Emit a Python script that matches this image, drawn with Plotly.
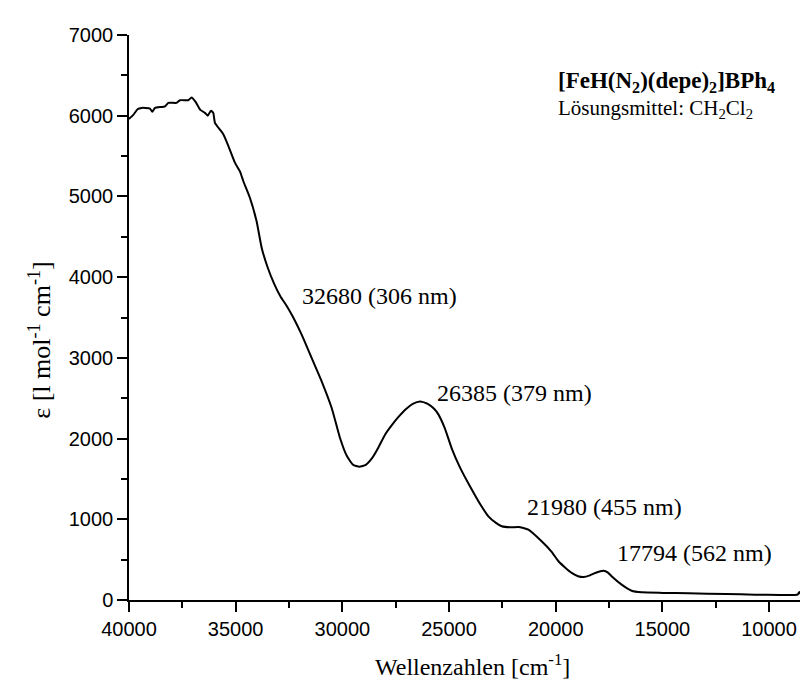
import plotly.graph_objects as go

# UV/Vis spectrum (wavenumber in cm-1, epsilon)
wavenumber = [40000, 39800, 39600, 39410, 39020, 38910, 38780, 38310, 38160, 37770,
              37610, 37220, 37070, 36880, 36670, 36440, 36310, 36160, 36050, 35970,
              35580, 35350, 35030, 34800, 34640, 34330, 34020, 33780, 33500, 33200,
              32900, 32600, 32300, 31908, 31440, 30970, 30500, 30110, 29800, 29500, 29200,
              28900, 28600, 28310, 28000, 27700, 27380, 27000, 26700, 26360, 26000,
              25700, 25500, 25200, 24880, 24500, 24000, 23500, 23155, 22800, 22530,
              22100, 21750, 21280, 20660, 20200, 19870, 19550, 19250, 18950, 18700,
              18400, 18150, 17760, 17550, 17380, 16910, 16440, 15970, 15000, 13780,
              12000, 10650, 9500, 8780, 8650, 8580, 8520, 8470, 8200, 7800]
epsilon = [5960, 6010, 6080, 6097, 6088, 6050, 6097, 6117, 6159, 6159,
           6192, 6192, 6225, 6171, 6076, 6035, 6000, 6063, 6035, 5911,
           5770, 5630, 5415, 5310, 5188, 4981, 4693, 4362, 4120, 3920,
           3760, 3640, 3500, 3287, 2999, 2710, 2379, 2007, 1790, 1675, 1650,
           1675, 1760, 1890, 2048, 2160, 2265, 2370, 2430, 2460, 2430,
           2370, 2300, 2130, 1883, 1650, 1400, 1170, 1037, 955, 913,
           900, 905, 871, 727, 600, 480, 400, 335, 295, 285,
           305, 335, 363, 340, 294, 190, 115, 95, 88, 83,
           74, 66, 62, 62, 70, 100, 75, 66, 72, 74]

x_ticks = [40000, 35000, 30000, 25000, 20000, 15000, 10000]

# band labels: text, x (left edge), y (middle)
band_labels = ["32680 (306 nm)", "26385 (379 nm)", "21980 (455 nm)", "17794 (562 nm)"]
band_x = [31984, 25656, 21437, 17218]
band_y = [3767, 2565, 1152, 582]

serif = "Liberation Serif, Times New Roman, serif"
sans = "Liberation Sans, Arial, sans-serif"

fig = go.Figure()
fig.add_trace(go.Scatter(x=wavenumber, y=epsilon, mode="lines",
                         line=dict(color="black", width=2, shape="spline", smoothing=0.5),
                         showlegend=False))

for txt, bx, by in zip(band_labels, band_x, band_y):
  fig.add_annotation(x=bx, y=by, text=txt, showarrow=False, xanchor="left", yanchor="middle",
                     font=dict(family=serif, size=24, color="black"))

fig.add_annotation(x=20000, y=6420, text="<b>[FeH(N<sub>2</sub>)(depe)<sub>2</sub>]BPh<sub>4</sub></b>",
                   showarrow=False, xanchor="left", yanchor="middle",
                   font=dict(family=serif, size=23, color="black"))
fig.add_annotation(x=20000, y=6080, text="Lösungsmittel: CH<sub>2</sub>Cl<sub>2</sub>",
                   showarrow=False, xanchor="left", yanchor="middle",
                   font=dict(family=serif, size=21, color="black"))

# axis titles
fig.add_annotation(xref="paper", yref="paper", x=0.5, y=-0.115, text="Wellenzahlen [cm<sup>-1</sup>]",
                   showarrow=False, xanchor="center", yanchor="middle",
                   font=dict(family=serif, size=24, color="black"))
fig.add_annotation(xref="paper", yref="paper", x=-0.13, y=0.46, text="ε [l mol<sup>-1</sup> cm<sup>-1</sup>]",
                   showarrow=False, xanchor="center", yanchor="middle", textangle=-90,
                   font=dict(family=serif, size=26, color="black"))

fig.update_xaxes(range=[40000, 7800], tickvals=x_ticks, ticktext=[str(v) for v in x_ticks],
                 ticks="outside", ticklen=10, tickwidth=1.5, tickcolor="black",
                 minor=dict(dtick=2500, tick0=0, ticks="outside", ticklen=6, tickwidth=1.5, tickcolor="black"),
                 showline=True, linecolor="black", linewidth=1.5, showgrid=False, zeroline=False,
                 tickfont=dict(family=sans, size=20, color="black"))
fig.update_yaxes(range=[0, 7000], dtick=1000, tickformat="d", ticks="outside", ticklen=10, tickwidth=1.5,
                 tickcolor="black",
                 minor=dict(dtick=500, ticks="outside", ticklen=6, tickwidth=1.5, tickcolor="black"),
                 showline=True, linecolor="black", linewidth=1.5, showgrid=False, zeroline=False,
                 tickfont=dict(family=sans, size=20, color="black"))

fig.update_layout(width=808, height=682, margin=dict(l=121, r=0, t=27, b=90),
                  plot_bgcolor="white", paper_bgcolor="white")

fig.write_html("out.html")
